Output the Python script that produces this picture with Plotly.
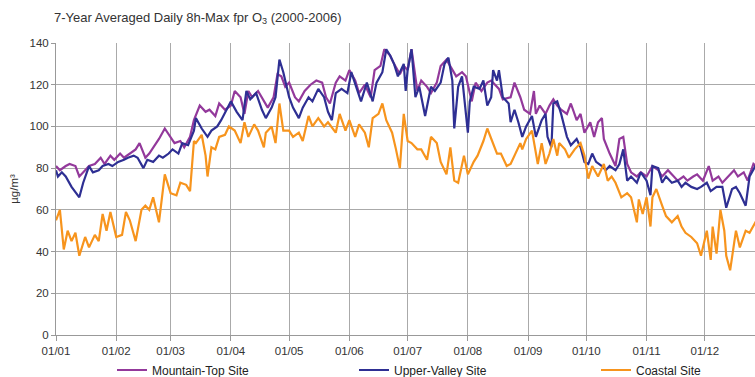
import plotly.graph_objects as go

# ---------------- data (day-of-year index, µg/m³) ----------------
month_ticks = [0, 31, 59, 90, 120, 151, 181, 212, 243, 273, 304, 334]
month_labels = ["01/01", "01/02", "01/03", "01/04", "01/05", "01/06",
                "01/07", "01/08", "01/09", "01/10", "01/11", "01/12"]
y_ticks = [0, 20, 40, 60, 80, 100, 120, 140]

mountain_days = [0, 2, 5, 7, 10, 12, 15, 17, 20, 23, 25, 28, 30, 33, 35, 38, 41, 43, 46, 48,
                 51, 53, 56, 59, 61, 64, 66, 69, 71, 74, 77, 79, 82, 84, 87, 90, 92, 95, 97, 99,
                 101, 104, 107, 109, 112, 114, 116, 118, 120, 123, 125, 128, 131, 134, 137, 139,
                 141, 144, 146, 149, 151, 154, 156, 159, 162, 164, 167, 169, 172, 174, 177, 179,
                 181, 183, 186, 188, 191, 193, 196, 198, 201, 204, 206, 209, 211, 214, 216, 219,
                 222, 224, 226, 228, 230, 234, 236, 239, 241, 244, 246, 247, 249, 252, 254, 256,
                 258, 260, 263, 265, 268, 270, 272, 275, 277, 279, 281, 282, 285, 288, 290, 292,
                 294, 296, 299, 301, 304, 307, 310, 312, 315, 318, 320, 323, 325, 328, 330, 333,
                 336, 338, 341, 343, 346, 349, 351, 354, 356, 359, 364]
mountain = [81, 79, 81, 82, 81, 76, 79, 81, 82, 85, 82, 86, 84, 87, 85, 87, 89, 92, 85, 87,
            91, 94, 99, 95, 92, 93, 90, 95, 103, 110, 107, 108, 105, 111, 108, 110, 117, 114, 106, 117,
            114, 117, 112, 109, 114, 125, 124, 119, 121, 114, 112, 117, 120, 122, 121, 114,
            111, 121, 124, 122, 127, 122, 116, 120, 114, 127, 129, 137, 134, 130, 125, 129,
            127, 137, 117, 122, 119, 116, 121, 129, 132, 127, 124, 126, 124, 112, 121, 117,
            121, 122, 120, 118, 113, 114, 121, 114, 108, 106, 117, 106, 110, 106, 110, 113,
            110, 108, 106, 111, 103, 106, 97, 102, 95, 102, 104, 94, 87, 81, 94, 95,
            82, 78, 76, 78, 76, 81, 79, 76, 79, 76, 74, 76, 74, 76, 77, 74,
            81, 74, 76, 73, 76, 79, 76, 78, 74, 82, 78]

valley_days = [0, 1, 3, 5, 8, 11, 12, 14, 17, 19, 22, 24, 27, 29, 32, 35, 37, 40, 42, 45,
               47, 50, 53, 55, 58, 60, 63, 65, 68, 71, 72, 75, 78, 80, 83, 85, 88, 90, 93, 95,
               96, 98, 100, 103, 106, 108, 111, 113, 115, 117, 120, 122, 125, 127, 130, 132,
               135, 138, 140, 142, 144, 147, 150, 152, 155, 157, 160, 163, 165, 168, 170, 172,
               174, 176, 179, 180, 181, 183, 185, 187, 190, 193, 195, 198, 200, 202, 204, 205,
               207, 209, 212, 213, 215, 218, 220, 222, 224, 225, 227, 228, 230, 233, 234, 236,
               238, 240, 242, 245, 247, 250, 252, 253, 255, 256, 258, 260, 263, 265, 268, 270,
               272, 274, 276, 278, 281, 283, 285, 288, 290, 292, 294, 296, 299, 301, 304, 306,
               307, 310, 312, 314, 317, 320, 322, 324, 327, 330, 332, 335, 337, 340, 343, 345,
               348, 350, 352, 355, 357, 360, 364]
valley = [79, 76, 78, 76, 71, 67, 66, 73, 81, 78, 79, 81, 82, 81, 83, 84, 85, 86, 85, 80,
          84, 83, 86, 85, 87, 89, 87, 92, 91, 98, 104, 99, 95, 98, 100, 103, 108, 112, 107, 104,
          103, 117, 113, 116, 108, 104, 109, 114, 132, 126, 114, 109, 104, 109, 114, 112,
          118, 114, 107, 103, 116, 118, 116, 126, 118, 112, 121, 112, 121, 126, 137, 134,
          130, 124, 130, 117, 127, 137, 114, 119, 105, 119, 117, 121, 130, 133, 122, 99,
          119, 124, 97, 112, 119, 118, 122, 110, 114, 127, 122, 127, 114, 111, 102, 108,
          102, 95, 100, 105, 95, 103, 106, 95, 90, 111, 112, 106, 95, 91, 94, 90,
          83, 82, 87, 83, 81, 79, 81, 79, 82, 89, 74, 76, 73, 78, 74, 67,
          81, 80, 73, 76, 73, 74, 71, 73, 71, 70, 71, 73, 69, 71, 71, 61,
          70, 71, 68, 62, 76, 81, 80]

coastal_days = [0, 2, 4, 6, 8, 10, 12, 15, 17, 20, 22, 24, 26, 28, 31, 34, 36, 38, 41, 44,
                46, 48, 50, 53, 56, 59, 62, 64, 67, 69, 71, 72, 75, 77, 78, 80, 82, 84, 87, 89,
                92, 95, 97, 99, 102, 104, 107, 108, 111, 113, 115, 117, 120, 122, 125, 127,
                130, 132, 135, 138, 140, 144, 146, 149, 151, 154, 156, 159, 161, 163, 166, 168,
                170, 173, 175, 177, 179, 181, 183, 186, 188, 191, 193, 196, 198, 201, 203, 205,
                207, 210, 212, 215, 217, 220, 222, 225, 227, 229, 232, 234, 236, 239, 240, 242,
                245, 247, 248, 250, 252, 254, 256, 258, 259, 262, 264, 267, 270, 272, 274, 276,
                279, 282, 284, 286, 288, 291, 294, 296, 299, 300, 302, 304, 306, 307, 309, 312,
                314, 317, 320, 322, 324, 327, 330, 332, 335, 337, 338, 340, 342, 344, 345, 347,
                350, 352, 355, 357, 360, 364]
coastal = [55, 60, 41, 50, 45, 49, 38, 47, 42, 48, 45, 58, 50, 59, 47, 48, 59, 55, 45, 60,
           62, 60, 66, 54, 77, 68, 67, 73, 72, 69, 93, 92, 96, 86, 76, 90, 89, 95, 96, 100,
           98, 92, 102, 95, 101, 98, 90, 97, 100, 92, 111, 98, 98, 95, 97, 93,
           105, 100, 104, 100, 102, 97, 106, 98, 103, 95, 101, 97, 90, 104, 106, 111,
           103, 97, 89, 80, 106, 93, 92, 89, 89, 84, 95, 92, 83, 77, 90, 74,
           73, 86, 77, 83, 86, 93, 99, 92, 87, 87, 81, 82, 86, 92, 89, 94,
           98, 87, 82, 92, 82, 87, 94, 86, 92, 89, 85, 89, 92, 86, 75, 81,
           76, 82, 74, 76, 73, 66, 68, 66, 54, 65, 58, 66, 52, 66, 70, 62,
           57, 54, 57, 52, 49, 47, 44, 38, 50, 36, 52, 39, 60, 50, 38, 31,
           50, 42, 50, 49, 54, 50]

series_names = ["Mountain-Top Site", "Upper-Valley Site", "Coastal Site"]
series_colors = ["#93399B", "#2E2F93", "#F7941D"]
legend_widths = [197, 197, 90]

# ---------------- figure ----------------
FONT = "Liberation Sans, Arial, sans-serif"

fig = go.Figure()
for name, xs, ys, col, lw in zip(series_names,
                                 [mountain_days, valley_days, coastal_days],
                                 [mountain, valley, coastal],
                                 series_colors, legend_widths):
    fig.add_trace(go.Scatter(x=xs, y=ys, mode="lines", name=name, legendwidth=lw,
                             line=dict(color=col, width=2.2)))

fig.update_layout(
    width=755, height=377,
    margin=dict(l=56, r=0, t=43, b=42, autoexpand=False),
    paper_bgcolor="white", plot_bgcolor="white",
    font=dict(family=FONT, size=12, color="#333"),
    title=dict(text="7-Year Averaged Daily 8h-Max fpr O<sub>3</sub> (2000-2006)",
               x=54 / 755, xanchor="left", xref="container",
               y=1 - 17 / 377, yanchor="middle", yref="container",
               font=dict(family=FONT, size=13, color="#333")),
    legend=dict(orientation="h", xref="container", yref="container",
                x=112 / 755, xanchor="left", y=1 - 370 / 377, yanchor="middle",
                font=dict(family=FONT, size=12, color="#222"),
                bgcolor="rgba(0,0,0,0)"),
    showlegend=True,
)
fig.update_xaxes(range=[0, 359.8], tickvals=month_ticks, ticktext=month_labels,
                 automargin=False,
                 showgrid=True, gridcolor="#aaaaaa", gridwidth=1,
                 showline=True, linecolor="#999999", linewidth=1,
                 ticks="outside", ticklen=5, tickcolor="#999999",
                 tickfont=dict(family=FONT, size=11.5, color="#333"),
                 zeroline=False, fixedrange=True)
fig.update_yaxes(range=[0, 140], tickvals=y_ticks, automargin=False,
                 showgrid=True, gridcolor="#aaaaaa", gridwidth=1,
                 showline=True, linecolor="#999999", linewidth=1,
                 ticks="outside", ticklen=4, tickcolor="#999999",
                 tickfont=dict(family=FONT, size=11.5, color="#333"),
                 title=dict(text="µg/m³", standoff=8,
                            font=dict(family=FONT, size=11.5, color="#333")),
                 zeroline=False, fixedrange=True)

fig.write_html("out.html", config={"displayModeBar": False},
               post_script="document.body.style.margin='0';")
